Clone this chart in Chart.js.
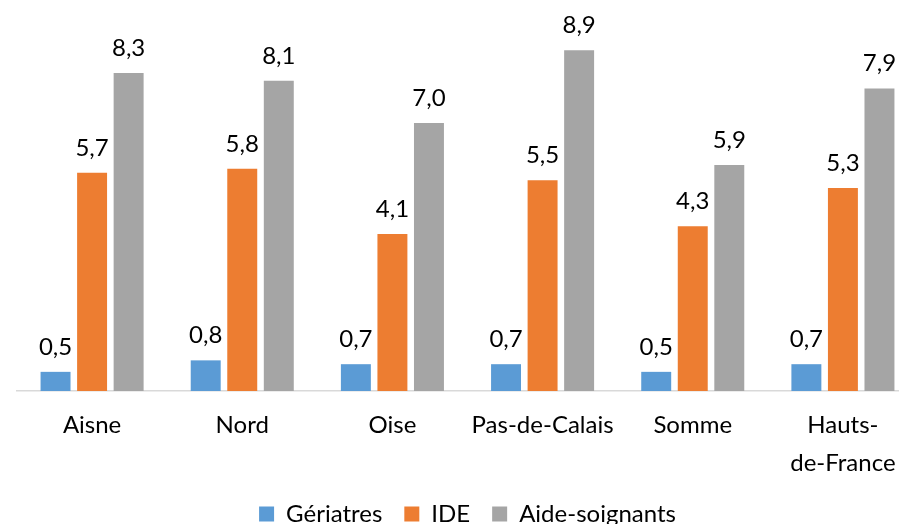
<!DOCTYPE html>
<html>
<head>
<meta charset="utf-8">
<script src="https://cdn.jsdelivr.net/npm/chart.js@4"></script>
<style>
  html, body { margin: 0; padding: 0; background: #fff; overflow: hidden; }
  #wrap { width: 918px; height: 524px; }
</style>
</head>
<body>
<div id="wrap"><canvas id="chart"></canvas></div>
<script>
// données
const categories = ['Aisne', 'Nord', 'Oise', 'Pas-de-Calais', 'Somme', ['Hauts-', 'de-France']];
const geriatres = [0.5, 0.8, 0.7, 0.7, 0.5, 0.7];
const ide = [5.7, 5.8, 4.1, 5.5, 4.3, 5.3];
const aidesSoignants = [8.3, 8.1, 7.0, 8.9, 5.9, 7.9];

const FONT = 'Lato, sans-serif';

// étiquettes de valeur au-dessus des barres
const valueLabels = {
    id: 'valueLabels',
    afterDatasetsDraw(chart) {
        const ctx = chart.ctx;
        ctx.save();
        ctx.font = '24px ' + FONT;
        ctx.fillStyle = '#000';
        ctx.textAlign = 'center';
        ctx.textBaseline = 'alphabetic';
        chart.data.datasets.forEach((ds, i) => {
            chart.getDatasetMeta(i).data.forEach((bar, j) => {
                const txt = ds.data[j].toFixed(1).replace('.', ',');
                ctx.fillText(txt, bar.x, bar.y - 17);
            });
        });
        ctx.restore();
    }
};

new Chart(document.getElementById('chart'), {
    type: 'bar',
    data: {
        labels: categories,
        datasets: [
            { label: 'Gériatres', data: geriatres, backgroundColor: '#5B9BD5' },
            { label: 'IDE', data: ide, backgroundColor: '#ED7D31' },
            { label: 'Aide-soignants', data: aidesSoignants, backgroundColor: '#A5A5A5' }
        ]
    },
    options: {
        responsive: true,
        maintainAspectRatio: false,
        animation: false,
        datasets: { bar: { categoryPercentage: 0.73, barPercentage: 0.82 } },
        layout: { padding: { left: 17, right: 0, top: 8, bottom: -12 } },
        plugins: {
            legend: {
                position: 'bottom',
                labels: { font: { family: FONT, size: 24 }, color: '#000', boxWidth: 15, boxHeight: 15, padding: 22 }
            },
            tooltip: { enabled: false }
        },
        scales: {
            y: { display: false, min: 0, max: 10 },
            x: {
                afterFit(scale) { scale.height = 89; },
                grid: { display: true, color: 'transparent', drawTicks: false },
                border: { display: true, color: '#D9D9D9', width: 1.5 },
                ticks: { font: { family: FONT, size: 24, lineHeight: 1.55 }, color: '#000', padding: 16, maxRotation: 0, autoSkip: false }
            }
        }
    },
    plugins: [valueLabels]
});
</script>
</body>
</html>
